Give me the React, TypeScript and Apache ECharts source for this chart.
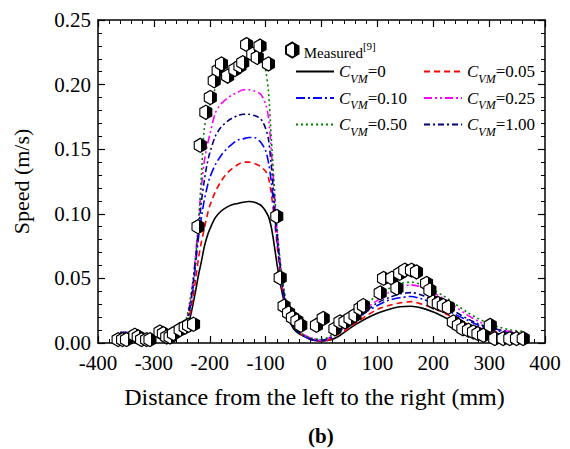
import React, { useEffect, useRef } from "react";
import * as echarts from "echarts";

const xGrid = [-360, -340, -320, -300, -280, -260, -250, -245, -240, -235, -230, -225, -220, -215, -210, -205, -200, -190, -180, -170, -160, -150, -140, -130, -120, -110, -105, -100, -95, -90, -85, -80, -75, -70, -65, -60, -50, -40, -30, -20, -10, 0, 10, 20, 30, 40, 60, 80, 100, 120, 140, 160, 180, 200, 220, 240, 260, 280, 300, 320, 340, 360];

const cvm0 = [0.007, 0.007, 0.006, 0.005, 0.005, 0.006, 0.008, 0.010, 0.014, 0.020, 0.030, 0.041, 0.053, 0.063, 0.074, 0.082, 0.088, 0.097, 0.102, 0.105, 0.107, 0.108, 0.109, 0.1095, 0.109, 0.107, 0.105, 0.102, 0.098, 0.090, 0.077, 0.062, 0.049, 0.038, 0.028, 0.020, 0.011, 0.007, 0.005, 0.003, 0.002, 0.0015, 0.002, 0.003, 0.005, 0.008, 0.014, 0.019, 0.023, 0.026, 0.028, 0.0285, 0.027, 0.024, 0.020, 0.016, 0.013, 0.010, 0.008, 0.007, 0.006, 0.005];
const cvm005 = [0.008, 0.008, 0.007, 0.006, 0.006, 0.007, 0.009, 0.012, 0.016, 0.024, 0.035, 0.050, 0.066, 0.078, 0.088, 0.098, 0.106, 0.117, 0.125, 0.131, 0.135, 0.138, 0.140, 0.140, 0.139, 0.137, 0.135, 0.133, 0.128, 0.116, 0.098, 0.078, 0.058, 0.042, 0.030, 0.022, 0.013, 0.008, 0.005, 0.003, 0.002, 0.0015, 0.002, 0.004, 0.007, 0.009, 0.015, 0.021, 0.026, 0.029, 0.031, 0.032, 0.030, 0.027, 0.023, 0.019, 0.015, 0.012, 0.010, 0.008, 0.007, 0.006];
const cvm010 = [0.008, 0.008, 0.007, 0.006, 0.006, 0.007, 0.009, 0.013, 0.018, 0.028, 0.042, 0.062, 0.082, 0.097, 0.110, 0.120, 0.128, 0.138, 0.145, 0.150, 0.154, 0.157, 0.158, 0.159, 0.159, 0.156, 0.153, 0.149, 0.140, 0.125, 0.104, 0.082, 0.062, 0.045, 0.032, 0.023, 0.013, 0.008, 0.005, 0.003, 0.002, 0.002, 0.003, 0.005, 0.008, 0.011, 0.017, 0.024, 0.029, 0.033, 0.035, 0.036, 0.034, 0.031, 0.027, 0.022, 0.018, 0.014, 0.011, 0.009, 0.008, 0.007];
const cvm025 = [0.008, 0.008, 0.007, 0.006, 0.006, 0.007, 0.010, 0.014, 0.020, 0.032, 0.048, 0.070, 0.096, 0.120, 0.140, 0.152, 0.161, 0.178, 0.185, 0.189, 0.192, 0.194, 0.196, 0.196, 0.195, 0.193, 0.190, 0.185, 0.175, 0.150, 0.120, 0.090, 0.066, 0.048, 0.034, 0.024, 0.014, 0.009, 0.006, 0.004, 0.003, 0.002, 0.003, 0.006, 0.009, 0.013, 0.020, 0.027, 0.033, 0.039, 0.043, 0.045, 0.043, 0.039, 0.034, 0.028, 0.022, 0.017, 0.013, 0.010, 0.009, 0.008];
const cvm050 = [0.008, 0.008, 0.007, 0.006, 0.006, 0.007, 0.010, 0.015, 0.022, 0.034, 0.048, 0.068, 0.092, 0.130, 0.165, 0.176, 0.184, 0.197, 0.205, 0.211, 0.215, 0.219, 0.221, 0.222, 0.221, 0.220, 0.216, 0.211, 0.195, 0.160, 0.125, 0.092, 0.068, 0.050, 0.036, 0.025, 0.014, 0.009, 0.006, 0.004, 0.003, 0.003, 0.004, 0.007, 0.010, 0.014, 0.022, 0.030, 0.037, 0.042, 0.046, 0.047, 0.045, 0.041, 0.036, 0.030, 0.024, 0.019, 0.015, 0.012, 0.010, 0.009];
const cvm100 = [0.008, 0.008, 0.007, 0.006, 0.006, 0.007, 0.009, 0.013, 0.019, 0.030, 0.045, 0.066, 0.088, 0.109, 0.125, 0.138, 0.147, 0.160, 0.167, 0.171, 0.174, 0.176, 0.177, 0.177, 0.176, 0.174, 0.171, 0.166, 0.158, 0.138, 0.112, 0.086, 0.064, 0.046, 0.033, 0.024, 0.013, 0.008, 0.005, 0.003, 0.002, 0.002, 0.003, 0.005, 0.008, 0.012, 0.018, 0.025, 0.031, 0.035, 0.038, 0.039, 0.037, 0.033, 0.029, 0.024, 0.019, 0.015, 0.012, 0.010, 0.008, 0.007];

const measuredX = [-364, -356, -349, -334, -328, -322, -313, -307, -289, -283, -277, -271, -265, -253, -244, -238, -229, -221, -217, -207, -199, -192, -185, -179, -168, -155, -146, -141, -134, -123, -115, -110, -95, -80, -74, -67, -59, -52, -44, -37, -9, 3, 24, 33, 42, 51, 60, 69, 75, 105, 111, 126, 135, 140, 149, 161, 170, 188, 194, 200, 209, 218, 227, 236, 245, 253, 263, 272, 280, 290, 302, 310, 325, 337, 349, 361];
const measuredY = [0.0026, 0.0026, 0.0026, 0.006, 0.0047, 0.0026, 0.0026, 0.0026, 0.0085, 0.0073, 0.0047, 0.0047, 0.0073, 0.0104, 0.0124, 0.0137, 0.0145, 0.090, 0.153, 0.1786, 0.190, 0.203, 0.211, 0.216, 0.2065, 0.2117, 0.2143, 0.217, 0.231, 0.2235, 0.221, 0.2298, 0.216, 0.098, 0.0505, 0.0285, 0.0233, 0.0197, 0.0171, 0.0137, 0.0137, 0.019, 0.011, 0.0163, 0.0163, 0.019, 0.0215, 0.0267, 0.029, 0.0388, 0.050, 0.0502, 0.0425, 0.0539, 0.0564, 0.0564, 0.055, 0.0461, 0.041, 0.0318, 0.0306, 0.029, 0.0277, 0.0163, 0.0137, 0.011, 0.0099, 0.0085, 0.0073, 0.006, 0.0137, 0.0034, 0.0034, 0.0034, 0.0034, 0.0034];

const xTicks = [-400, 400, 100];
const yTicks = [0, 0.25, 0.05];

const curveNames = ["C0", "C0.05", "C0.10", "C0.25", "C0.50", "C1.00"];
const curveLabels = ["0", "0.05", "0.10", "0.25", "0.50", "1.00"];

const SERIF = "'Liberation Serif', 'Times New Roman', serif";

export default function App() {
  const ref = useRef<HTMLDivElement>(null);
  useEffect(() => {
    if (!ref.current) return;
    const chart = echarts.init(ref.current, null, { renderer: "svg" });
    const pair = (ys: number[]) => xGrid.map((x, i) => [x, ys[i]]);
    const curves = [cvm0, cvm005, cvm010, cvm025, cvm050, cvm100];
    const styles = [
      { color: "#000000", type: "solid" as any },
      { color: "#ff0000", type: [6, 4] },
      { color: "#0000ff", type: [9, 3, 2, 3] },
      { color: "#ff00ff", type: [8, 3, 2, 3, 2, 3] },
      { color: "#008000", type: [2, 3] },
      { color: "#000080", type: [6, 3, 2, 3] },
    ];
    const hex = "path://M5,0 L10,3 L10,9 L5,12 L0,9 L0,3 Z";
    const hexFill = new echarts.graphic.LinearGradient(0, 0, 1, 0, [
      { offset: 0, color: "#ffffff" },
      { offset: 0.6, color: "#ffffff" },
      { offset: 0.6, color: "#000000" },
      { offset: 1, color: "#000000" },
    ]);
    const fmt = (name: string) => {
      const i = curveNames.indexOf(name);
      return "{c|C}{s|VM}{n|=" + curveLabels[i] + "}";
    };
    const rich = {
      c: { fontFamily: SERIF, fontSize: 17, fontStyle: "italic", lineHeight: 26, verticalAlign: "middle", color: "#000" },
      s: { fontFamily: SERIF, fontSize: 12, fontStyle: "italic", lineHeight: 12, verticalAlign: "bottom", color: "#000" },
      n: { fontFamily: SERIF, fontSize: 17, lineHeight: 26, verticalAlign: "middle", color: "#000" },
    };
    const legendCommon = {
      orient: "vertical",
      itemWidth: 38,
      itemHeight: 14,
      itemGap: 5,
      formatter: fmt,
      textStyle: { rich, color: "#000" },
      itemStyle: { color: "rgba(0,0,0,0)", borderColor: "rgba(0,0,0,0)", borderWidth: 0, opacity: 0 },
      selectedMode: false,
    };
    const axisCommon = {
      axisLine: { show: true, onZero: false, lineStyle: { color: "#000", width: 1.5 } },
      axisTick: { show: true, inside: true, length: 7, lineStyle: { color: "#000", width: 1.2 } },
      minorTick: { show: true, splitNumber: 5, length: 4, lineStyle: { color: "#000", width: 1 } },
      splitLine: { show: false },
    };
    chart.setOption({
      animation: false,
      backgroundColor: "#ffffff",
      grid: { left: 98, right: 25, top: 20, bottom: 106, containLabel: false },
      xAxis: [
        {
          type: "value", min: xTicks[0], max: xTicks[1], interval: xTicks[2],
          ...axisCommon,
          axisLabel: { fontFamily: SERIF, fontSize: 21, color: "#000", margin: 9 },
          name: "Distance from the left to the right (mm)",
          nameLocation: "middle", nameGap: 42,
          nameTextStyle: { fontFamily: SERIF, fontSize: 24, color: "#000", padding: [0, 14, 0, 0] },
        },
        {
          type: "value", min: xTicks[0], max: xTicks[1], interval: xTicks[2], position: "top",
          ...axisCommon, axisLabel: { show: false },
        },
      ],
      yAxis: [
        {
          type: "value", min: yTicks[0], max: yTicks[1], interval: yTicks[2],
          ...axisCommon,
          axisLabel: { fontFamily: SERIF, fontSize: 21, color: "#000", margin: 7, formatter: (v: number) => v.toFixed(2) },
          name: "Speed (m/s)",
          nameLocation: "middle", nameGap: 66,
          nameTextStyle: { fontFamily: SERIF, fontSize: 22, color: "#000" },
        },
        {
          type: "value", min: yTicks[0], max: yTicks[1], interval: yTicks[2], position: "right",
          ...axisCommon, axisLabel: { show: false },
        },
      ],
      legend: [
        {
          left: 280, top: 35, itemWidth: 13, itemHeight: 15,
          data: ["Measured"], selectedMode: false,
          formatter: () => "{m|Measured}{p|[9]}",
          textStyle: {
            rich: {
              m: { fontFamily: SERIF, fontSize: 15, color: "#000", lineHeight: 20, verticalAlign: "bottom" },
              p: { fontFamily: SERIF, fontSize: 11, color: "#000", lineHeight: 20, verticalAlign: "top" },
            },
          },
        },
        { ...legendCommon, left: 290, top: 58, data: ["C0", "C0.10", "C0.50"] },
        { ...legendCommon, left: 418, top: 58, data: ["C0.05", "C0.25", "C1.00"] },
      ],
      graphic: [
        {
          type: "text", left: 308, top: 425,
          style: { text: "(b)", font: "bold 21px " + SERIF, fill: "#000" },
        },
      ],
      series: [
        ...curves.map((c, i) => ({
          name: curveNames[i],
          type: "line",
          data: pair(c),
          symbol: "none",
          smooth: 0.3,
          lineStyle: { color: styles[i].color, width: 1.6, type: styles[i].type },
          itemStyle: { color: styles[i].color },
          z: 2,
        })),
        {
          name: "Measured",
          type: "scatter",
          data: measuredX.map((x, i) => [x, measuredY[i]]),
          symbol: hex,
          symbolSize: [12, 14],
          itemStyle: { color: hexFill, borderColor: "#000", borderWidth: 1.2, opacity: 1 },
          z: 3,
        },
      ],
    });
    return () => chart.dispose();
  }, []);
  return <div ref={ref} style={{ position: "fixed", left: 0, top: 0, width: 570, height: 449 }} />;
}
